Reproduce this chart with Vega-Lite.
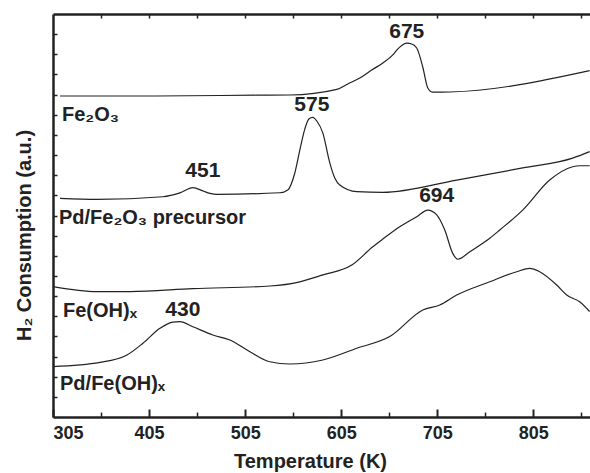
{
  "$schema": "https://vega.github.io/schema/vega-lite/v6.json",
  "width": 538,
  "height": 403,
  "autosize": "none",
  "padding": {"left": 53, "top": 14, "right": 0, "bottom": 56},
  "background": "white",
  "config": {
    "view": {"stroke": null},
    "font": "Liberation Sans",
    "axis": {"grid": false, "domainColor": "#222", "tickColor": "#222", "labelColor": "#222", "titleColor": "#222", "labelFont": "Liberation Sans", "titleFont": "Liberation Sans"}
  },
  "datasets": {
    "curves": [
      {"s": "Fe2O3", "T": 312.3, "v": 15.93},
      {"s": "Fe2O3", "T": 405.9, "v": 15.93},
      {"s": "Fe2O3", "T": 517.2, "v": 15.97},
      {"s": "Fe2O3", "T": 551.5, "v": 15.98},
      {"s": "Fe2O3", "T": 600.4, "v": 16.26},
      {"s": "Fe2O3", "T": 611.9, "v": 16.53},
      {"s": "Fe2O3", "T": 624.3, "v": 16.82},
      {"s": "Fe2O3", "T": 636.8, "v": 17.22},
      {"s": "Fe2O3", "T": 648.3, "v": 17.57},
      {"s": "Fe2O3", "T": 658.7, "v": 17.97},
      {"s": "Fe2O3", "T": 662.8, "v": 18.21},
      {"s": "Fe2O3", "T": 668.0, "v": 18.44},
      {"s": "Fe2O3", "T": 673.2, "v": 18.55},
      {"s": "Fe2O3", "T": 678.4, "v": 18.51},
      {"s": "Fe2O3", "T": 683.6, "v": 18.31},
      {"s": "Fe2O3", "T": 689.9, "v": 17.37},
      {"s": "Fe2O3", "T": 695.1, "v": 16.33},
      {"s": "Fe2O3", "T": 700.3, "v": 16.12},
      {"s": "Fe2O3", "T": 718.0, "v": 16.13},
      {"s": "Fe2O3", "T": 863.6, "v": 17.19},

      {"s": "PdFe2O3", "T": 312.3, "v": 10.85},
      {"s": "PdFe2O3", "T": 350.8, "v": 10.80},
      {"s": "PdFe2O3", "T": 419.4, "v": 10.93},
      {"s": "PdFe2O3", "T": 437.1, "v": 11.12},
      {"s": "PdFe2O3", "T": 450.6, "v": 11.38},
      {"s": "PdFe2O3", "T": 461.0, "v": 11.22},
      {"s": "PdFe2O3", "T": 468.3, "v": 11.10},
      {"s": "PdFe2O3", "T": 475.6, "v": 11.05},
      {"s": "PdFe2O3", "T": 541.1, "v": 11.13},
      {"s": "PdFe2O3", "T": 549.4, "v": 11.27},
      {"s": "PdFe2O3", "T": 556.7, "v": 12.11},
      {"s": "PdFe2O3", "T": 561.9, "v": 13.25},
      {"s": "PdFe2O3", "T": 567.1, "v": 14.29},
      {"s": "PdFe2O3", "T": 571.3, "v": 14.79},
      {"s": "PdFe2O3", "T": 575.4, "v": 14.87},
      {"s": "PdFe2O3", "T": 579.6, "v": 14.69},
      {"s": "PdFe2O3", "T": 585.9, "v": 14.09},
      {"s": "PdFe2O3", "T": 593.1, "v": 12.61},
      {"s": "PdFe2O3", "T": 598.3, "v": 11.86},
      {"s": "PdFe2O3", "T": 603.5, "v": 11.51},
      {"s": "PdFe2O3", "T": 621.2, "v": 11.18},
      {"s": "PdFe2O3", "T": 648.3, "v": 11.15},
      {"s": "PdFe2O3", "T": 725.2, "v": 11.76},
      {"s": "PdFe2O3", "T": 793.9, "v": 12.36},
      {"s": "PdFe2O3", "T": 845.9, "v": 12.85},
      {"s": "PdFe2O3", "T": 863.6, "v": 13.17},

      {"s": "FeOH", "T": 305.0, "v": 6.47},
      {"s": "FeOH", "T": 350.8, "v": 6.22},
      {"s": "FeOH", "T": 385.1, "v": 6.22},
      {"s": "FeOH", "T": 450.6, "v": 6.37},
      {"s": "FeOH", "T": 530.7, "v": 6.50},
      {"s": "FeOH", "T": 561.9, "v": 6.71},
      {"s": "FeOH", "T": 585.9, "v": 7.05},
      {"s": "FeOH", "T": 616.0, "v": 7.54},
      {"s": "FeOH", "T": 637.9, "v": 8.45},
      {"s": "FeOH", "T": 648.3, "v": 8.83},
      {"s": "FeOH", "T": 665.9, "v": 9.44},
      {"s": "FeOH", "T": 683.6, "v": 9.94},
      {"s": "FeOH", "T": 695.1, "v": 10.27},
      {"s": "FeOH", "T": 704.4, "v": 10.03},
      {"s": "FeOH", "T": 712.8, "v": 9.28},
      {"s": "FeOH", "T": 721.1, "v": 8.12},
      {"s": "FeOH", "T": 726.3, "v": 7.83},
      {"s": "FeOH", "T": 738.8, "v": 8.20},
      {"s": "FeOH", "T": 759.6, "v": 8.87},
      {"s": "FeOH", "T": 770.0, "v": 9.28},
      {"s": "FeOH", "T": 793.9, "v": 10.27},
      {"s": "FeOH", "T": 822.0, "v": 11.76},
      {"s": "FeOH", "T": 845.9, "v": 12.42},
      {"s": "FeOH", "T": 853.2, "v": 12.47},
      {"s": "FeOH", "T": 863.6, "v": 12.47},

      {"s": "PdFeOH", "T": 305.0, "v": 2.50},
      {"s": "PdFeOH", "T": 353.9, "v": 2.71},
      {"s": "PdFeOH", "T": 382.0, "v": 3.08},
      {"s": "PdFeOH", "T": 398.6, "v": 3.66},
      {"s": "PdFeOH", "T": 416.3, "v": 4.40},
      {"s": "PdFeOH", "T": 429.8, "v": 4.71},
      {"s": "PdFeOH", "T": 437.1, "v": 4.73},
      {"s": "PdFeOH", "T": 450.6, "v": 4.48},
      {"s": "PdFeOH", "T": 471.4, "v": 4.07},
      {"s": "PdFeOH", "T": 489.1, "v": 3.82},
      {"s": "PdFeOH", "T": 509.9, "v": 3.24},
      {"s": "PdFeOH", "T": 530.7, "v": 2.74},
      {"s": "PdFeOH", "T": 551.5, "v": 2.63},
      {"s": "PdFeOH", "T": 585.9, "v": 2.83},
      {"s": "PdFeOH", "T": 621.2, "v": 3.41},
      {"s": "PdFeOH", "T": 655.5, "v": 3.99},
      {"s": "PdFeOH", "T": 689.9, "v": 5.31},
      {"s": "PdFeOH", "T": 707.6, "v": 5.56},
      {"s": "PdFeOH", "T": 725.2, "v": 6.05},
      {"s": "PdFeOH", "T": 759.6, "v": 6.71},
      {"s": "PdFeOH", "T": 787.7, "v": 7.21},
      {"s": "PdFeOH", "T": 801.2, "v": 7.38},
      {"s": "PdFeOH", "T": 811.6, "v": 7.21},
      {"s": "PdFeOH", "T": 829.3, "v": 6.55},
      {"s": "PdFeOH", "T": 839.7, "v": 6.05},
      {"s": "PdFeOH", "T": 853.2, "v": 5.72},
      {"s": "PdFeOH", "T": 863.6, "v": 5.23}
    ],
    "names": [
      {"label": "Fe₂O₃", "T": 314.4, "v": 14.99},
      {"label": "Pd/Fe₂O₃ precursor", "T": 311.2, "v": 9.88},
      {"label": "Fe(OH)ₓ", "T": 315.4, "v": 5.26},
      {"label": "Pd/Fe(OH)ₓ", "T": 312.3, "v": 1.64}
    ],
    "peaks": [
      {"label": "675", "T": 673.2, "v": 19.1},
      {"label": "575", "T": 574.4, "v": 15.48},
      {"label": "451", "T": 461.0, "v": 12.2},
      {"label": "694", "T": 704.4, "v": 10.97},
      {"label": "430", "T": 440.2, "v": 5.31}
    ]
  },
  "resolve": {"axis": {"x": "independent", "y": "independent"}},
  "layer": [
    {
      "data": {"name": "curves"},
      "mark": {"type": "line", "color": "#222", "strokeWidth": 1.2, "clip": true, "interpolate": "monotone"},
      "encoding": {
        "x": {"field": "T", "type": "quantitative", "scale": {"domain": [305, 865], "nice": false, "zero": false},
          "axis": {"orient": "bottom", "values": [305, 405, 505, 605, 705, 805], "tickSize": -8, "tickWidth": 2, "domainWidth": 2.5,
            "labelFontSize": 18, "labelFontWeight": "bold", "labelPadding": 15, "labelBaseline": "top",
            "title": "Temperature (K)", "titleFontSize": 20, "titleFontWeight": "bold", "titleX": 257, "titleY": 44, "titleBaseline": "middle", "titleAlign": "center"}},
        "y": {"field": "v", "type": "quantitative", "scale": {"domain": [0, 20], "nice": false},
          "axis": {"orient": "left", "values": [1,2,3,4,5,6,7,8,9,10,11,12,13,14,15,16,17,18,19], "tickSize": -4, "tickWidth": 1.5, "domainWidth": 2.5, "labels": false,
            "title": "H₂ Consumption (a.u.)", "titleFontSize": 20, "titleFontWeight": "bold", "titleX": -29, "titleY": 221, "titleBaseline": "middle", "titleAlign": "center", "titleAngle": -90}},
        "detail": {"field": "s"}
      }
    },
    {
      "data": {"name": "names"},
      "mark": {"type": "text", "align": "left", "baseline": "middle", "fontSize": 20, "fontWeight": "bold", "color": "#222", "font": "Liberation Sans"},
      "encoding": {
        "x": {"field": "T", "type": "quantitative", "axis": {"orient": "bottom", "values": [355, 455, 555, 655, 755, 855], "tickSize": -5, "tickWidth": 1.5, "labels": false, "domain": false, "title": null}},
        "y": {"field": "v", "type": "quantitative", "axis": null},
        "text": {"field": "label"}
      }
    },
    {
      "data": {"name": "peaks"},
      "mark": {"type": "text", "align": "center", "baseline": "middle", "fontSize": 21, "fontWeight": "bold", "color": "#222", "font": "Liberation Sans"},
      "encoding": {
        "x": {"field": "T", "type": "quantitative", "axis": {"orient": "top", "values": [355, 405, 455, 505, 555, 605, 655, 705, 755, 805, 855], "tickSize": -4, "tickWidth": 1.5, "domainWidth": 2.5, "labels": false, "title": null}},
        "y": {"field": "v", "type": "quantitative", "axis": null},
        "text": {"field": "label"}
      }
    }
  ]
}
